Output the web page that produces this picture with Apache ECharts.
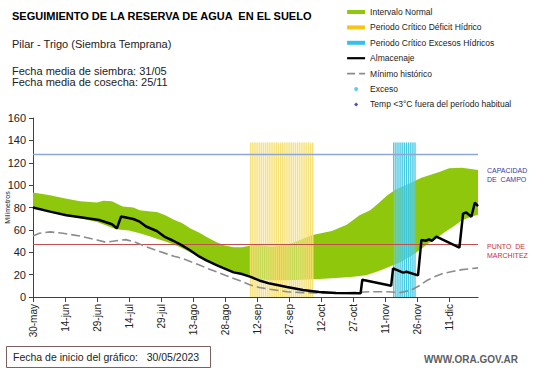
<!DOCTYPE html>
<html><head><meta charset="utf-8">
<script src="https://cdn.jsdelivr.net/npm/echarts@6/dist/echarts.min.js"></script>
<style>html,body{margin:0;padding:0;background:#fff}#c{width:541px;height:368px}</style>
</head><body><div id="c"></div>
<script>
// ---- data (day index from 30-may, value in mm) ----
const xTickLabels = ['30-may','14-jun','29-jun','14-jul','29-jul','13-ago','28-ago','12-sep','27-sep','12-oct','27-oct','11-nov','26-nov','11-dic'];
const bandUpper = [[0,93.5],[8,91],[14,88.5],[22,85.5],[30,84.5],[33,86],[37,85.5],[42,81],[47,80],[50,77.5],[55,76.5],[58,76],[62,73],[66,69],[70,66],[74,61],[78,57.5],[82,53],[86,49],[90,46],[94,44.5],[98,44.5],[102,46],[106,47],[111,45],[117,46],[122,48.5],[126.5,52],[131,55.4],[136,57.5],[140,59],[147,64.5],[153,73],[158,77.5],[162,84],[166,91],[170,96],[174,99.5],[178,103],[182,106.5],[186,109],[190,111.5],[195,115],[201,115.5],[208.5,113.5]];
const bandLower = [[0,79],[8,76.5],[14,73.5],[22,70.5],[30,67],[37,62],[39,60.5],[45,59.5],[50,57],[55,54],[58,52],[62,49.5],[66,47],[70,43.5],[74,39.5],[78,36],[82,32],[86,29],[90,25.5],[94,22],[98,19.5],[102,17.5],[106,16],[111,15],[118,15],[126,15.5],[134,16],[142,17],[150,18],[156,19.5],[161,22.5],[165,25.5],[169,28.6],[173,32],[177,36.5],[181,41.5],[185,47.5],[189,52.5],[193,58],[197,63],[201,68.5],[205,71.5],[208.5,73.5]];
const almacenaje = [[0,80],[8,76.3],[15.6,73],[23,71],[31,68.8],[37,65],[39.3,61.4],[41.3,72],[47,69.7],[50,67.3],[53,63],[58,59],[62,53.5],[65.5,50.5],[69,47],[73.4,42],[78,36],[81,33],[86,28.5],[89,26],[94,22],[98,20.5],[102,18],[106,14.8],[111,12],[119,9],[126.5,6.3],[134,4.5],[142,3.6],[153.5,3.3],[154.3,15.5],[167.8,10],[168.7,25.6],[173.4,21.8],[175,22.6],[180.4,19.3],[182,51],[184,50.3],[185.5,51.5],[187,50.3],[189,54],[199.8,44.2],[201.5,74.5],[203,75.5],[205.4,71.8],[207,84.3],[208.5,81.3]];
const minimoHistorico = [[0,54.5],[3,57],[8,58.2],[14,57],[22,54.5],[30,51],[34,49],[39,50.3],[43.5,51.3],[48,49],[53,45],[58,41.5],[62,39],[66,36.5],[70,34.5],[74,31.5],[78,28.6],[82,25.3],[86,22.6],[90,19.5],[94,16.5],[97,14.5],[101.5,11],[106,8.5],[111,7],[119,4.7],[126.5,3.9],[142,3.3],[158,4.7],[166,4.7],[172,3.9],[177,6],[181,10],[184.3,14.5],[188,18],[192,21],[197,23],[201,24.5],[208.5,26]];
const exceso = [];
const tempBaja = [];
const deficitPeriod = [101.5, 131.5, 138];
const excesoPeriod = [168.7, 179.2, 138];
const capacidadCampo = 127.5;
const puntoMarchitez = 47;

const GREEN = '#8ec70c';
const FONT = 'Liberation Sans';

function stripes(color, bg) {
  return function (params, api) {
    const s = api.value(0), e = api.value(1), top = api.value(2);
    const p0 = api.coord([s, top]), p1 = api.coord([e, 0]);
    const h = p1[1] - p0[1];
    const children = [{type:'rect', shape:{x:p0[0], y:p0[1], width:p1[0]-p0[0], height:h}, style:{fill:bg}}];
    for (let d = Math.ceil(s); d <= e; d++) {
      const x = api.coord([d, 0])[0];
      children.push({type:'rect', shape:{x:x-0.6, y:p0[1], width:1.2, height:h}, style:{fill:color}});
    }
    return {type:'group', children};
  };
}

const chart = echarts.init(document.getElementById('c'), null, {renderer:'svg'});
chart.setOption({
  animation:false,
  backgroundColor:'#fff',
  grid:{left:33, top:118, width:445, height:179, outerBoundsMode:'none', containLabel:false},
  xAxis:{type:'value', min:0, max:208.5,
    axisLine:{lineStyle:{color:'#404040'}},
    axisTick:{length:5, lineStyle:{color:'#404040'}, customValues:xTickLabels.map((_, i) => i*15)},
    axisLabel:{rotate:90, fontSize:10, fontFamily:FONT, color:'#222', margin:7,
      customValues:xTickLabels.map((_, i) => i*15),
      formatter:v => xTickLabels[Math.round(v/15)] || ''},
    splitLine:{show:false}},
  yAxis:{type:'value', min:0, max:160, interval:20, name:'Milímetros', nameLocation:'middle', nameGap:22,
    nameMoveOverlap:false,
    nameTextStyle:{fontSize:7, fontFamily:FONT, color:'#222'},
    axisLine:{show:true, lineStyle:{color:'#404040'}},
    axisTick:{show:true, length:4, lineStyle:{color:'#404040'}},
    axisLabel:{fontSize:11, fontFamily:FONT, color:'#222', margin:7},
    splitLine:{show:false}},
  legend:{orient:'vertical', left:346, top:6, padding:0, itemWidth:18, itemHeight:4, itemGap:3.4, selectedMode:false,
    symbolKeepAspect:true,
    textStyle:{fontSize:8.5, fontFamily:FONT, color:'#222', lineHeight:12},
    data:[
      {name:'Intervalo Normal', icon:'rect', itemStyle:{color:GREEN}},
      {name:'Periodo Crítico Déficit Hídrico', icon:'rect', itemStyle:{color:'#f7c51a'}},
      {name:'Periodo Crítico Excesos Hídricos', icon:'rect', itemStyle:{color:'#35c0ea'}},
      {name:'Almacenaje', itemStyle:{opacity:0}, lineStyle:{color:'#000', width:2.2}},
      {name:'Mínimo histórico', itemStyle:{opacity:0}, lineStyle:{color:'#8c8c8c', width:1.6, type:[8,4]}},
      {name:'Exceso', icon:'circle', itemStyle:{color:'#2fc4e8'}},
      {name:'Temp <3°C fuera del período habitual', icon:'path://M2,0 L4,2 L2,4 L0,2 Z', itemStyle:{color:'#1f1f9a'}}
    ]},
  series:[
    {type:'custom', name:'Intervalo Normal', z:1, data:[[0,0]], itemStyle:{color:GREEN},
      renderItem:(params, api) => {
        const pts = bandUpper.map(p => api.coord(p)).concat(bandLower.slice().reverse().map(p => api.coord(p)));
        return {type:'polygon', shape:{points:pts}, style:{fill:GREEN}};
      }},
    {type:'custom', name:'Periodo Crítico Déficit Hídrico', z:2, data:[deficitPeriod], encode:{x:[0,1], y:2},
      itemStyle:{color:'#f7c51a'}, renderItem:stripes('rgba(244,222,110,0.92)','rgba(250,238,170,0.45)')},
    {type:'custom', name:'Periodo Crítico Excesos Hídricos', z:2, data:[excesoPeriod], encode:{x:[0,1], y:2},
      itemStyle:{color:'#35c0ea'}, renderItem:stripes('rgba(58,196,222,0.92)','rgba(160,226,240,0.45)')},
    {type:'line', name:'Mínimo histórico', z:4, data:minimoHistorico, symbol:'none', smooth:false,
      lineStyle:{color:'#8c8c8c', width:1.6, type:[9,4]}, itemStyle:{color:'#8c8c8c'},
      markLine:{silent:true, symbol:['none','none'], label:{show:false}, z:3,
        data:[{yAxis:capacidadCampo, lineStyle:{color:'#8ea6d6', width:1.3, type:'solid'}},
              {yAxis:puntoMarchitez, lineStyle:{color:'#c0504d', width:1, type:'solid'}}]}},
    {type:'line', name:'Almacenaje', z:10, data:almacenaje, symbol:'none',
      lineStyle:{color:'#000', width:2.5}, itemStyle:{color:'#000'}},
    {type:'scatter', name:'Exceso', data:exceso, symbolSize:4, itemStyle:{color:'#2fc4e8'}},
    {type:'scatter', name:'Temp <3°C fuera del período habitual', data:tempBaja, symbol:'diamond', symbolSize:5, itemStyle:{color:'#1f1f9a'}}
  ],
  graphic:[
    {type:'text', left:12, top:10, style:{text:'SEGUIMIENTO DE LA RESERVA DE AGUA  EN EL SUELO', font:'bold 11px "Liberation Sans"', fill:'#000'}},
    {type:'text', left:12, top:38, style:{text:'Pilar - Trigo (Siembra Temprana)', font:'11px "Liberation Sans"', fill:'#222'}},
    {type:'text', left:12, top:65, style:{text:'Fecha media de siembra: 31/05', font:'11px "Liberation Sans"', fill:'#222'}},
    {type:'text', left:12, top:76, style:{text:'Fecha media de cosecha: 25/11', font:'11px "Liberation Sans"', fill:'#222'}},
    {type:'text', left:487, top:166, style:{text:'CAPACIDAD\nDE  CAMPO', font:'7px "Liberation Sans"', fill:'#3a3aa8', lineHeight:9}},
    {type:'text', left:487, top:242, style:{text:'PUNTO  DE\nMARCHITEZ', font:'7px "Liberation Sans"', fill:'#cc3030', lineHeight:9}},
    {type:'rect', left:6, top:346, shape:{width:204, height:21}, style:{fill:'#fff', stroke:'#7f6060', lineWidth:1}},
    {type:'text', left:13, top:351, style:{text:'Fecha de inicio del gráfico:   30/05/2023', font:'10.5px "Liberation Sans"', fill:'#222'}},
    {type:'text', right:23, top:354, style:{text:'WWW.ORA.GOV.AR', font:'bold 10px "Liberation Sans"', fill:'#606060'}}
  ]
});
</script>
</body></html>
